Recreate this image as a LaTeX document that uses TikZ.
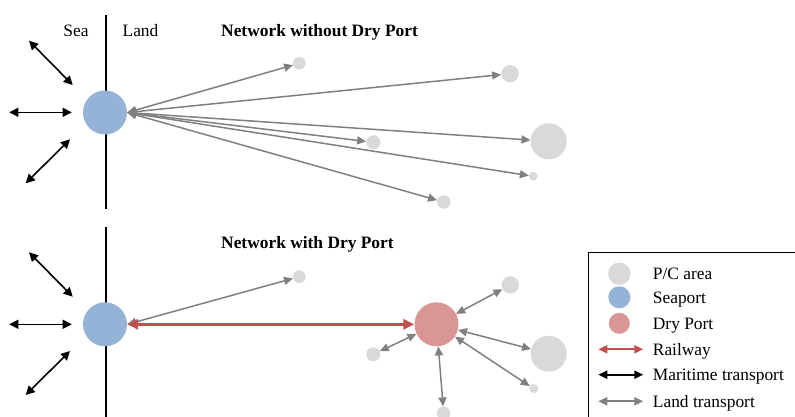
\documentclass[tikz,border=0pt]{standalone}
\usepackage{fontspec}
\setmainfont{Liberation Serif}
\usetikzlibrary{arrows.meta}
\definecolor{seablue}{RGB}{149,179,215}
\definecolor{pcgray}{RGB}{217,217,217}
\definecolor{drypink}{RGB}{217,150,148}
\definecolor{railred}{RGB}{192,80,77}
\definecolor{landgray}{RGB}{128,128,128}
\begin{document}
\begin{tikzpicture}[x=1pt,y=-1pt,
  hub/.style={circle,inner sep=0pt,draw=none,minimum size=#1},
  pc/.style={hub=#1,fill=pcgray},
  seaport/.style={hub=#1,fill=seablue},
  dryport/.style={hub=#1,fill=drypink},
  landtip/.tip={Triangle[length=9pt,width=8pt]},
  seatip/.tip={Triangle[length=9pt,width=9pt]},
  railtip/.tip={Triangle[length=11pt,width=10pt]},
  land/.style={draw=landgray,line width=1.5pt,landtip-landtip},
  maritime/.style={draw=black,line width=1.6pt,seatip-seatip},
  rail/.style={draw=railred,line width=3pt,railtip-railtip},
  coast/.style={draw=black,line width=1.6pt},
  txt/.style={font=\fontsize{17.4}{20}\selectfont,inner sep=0pt},
  title/.style={txt,font=\fontsize{17.4}{20}\selectfont\bfseries,anchor=base west},
]
\clip (0,0) rectangle (795,416);
\fill[white] (0,0) rectangle (795,416);

% ---------- upper panel: network without dry port ----------
\coordinate (c1a) at (106,15);
\coordinate (c1b) at (106,208.5);
\draw[coast] (c1a) -- (c1b);
\node[txt,anchor=base] (sea) at (76,36.7) {Sea};
\node[txt,anchor=base] (landlbl) at (140.5,36.7) {Land};
\node[title] (t1) at (221,36.7) {Network without Dry Port};

\node[seaport=44pt] (sp1) at (105,112.5) {};

\node[pc=12.6pt] (a1) at (299.3,63.3) {};
\node[pc=17.4pt] (a2) at (510,73.7) {};
\node[pc=36pt]   (a3) at (548.7,141.3) {};
\node[pc=14pt]   (a4) at (373.3,142.3) {};
\node[pc=8.6pt]  (a5) at (533.3,176.3) {};
\node[pc=13.4pt] (a6) at (443.7,202) {};

% all land links leave the seaport from its east point
\foreach \t in {a1,a2,a3,a4,a5,a6}
  \draw[land] (sp1.east) -- (\t);

\coordinate (m1a) at (29,40.7);   \coordinate (m1b) at (72.7,85);
\coordinate (m2a) at (9.3,112.3); \coordinate (m2b) at (71.7,112.3);
\coordinate (m3a) at (70,139.3);  \coordinate (m3b) at (25.7,183.3);
\draw[maritime] (m1a) -- (m1b);
\draw[maritime] (m2a) -- (m2b);
\draw[maritime] (m3a) -- (m3b);

% ---------- lower panel: network with dry port ----------
\coordinate (c2a) at (106,226.7);
\coordinate (c2b) at (106,420);
\draw[coast] (c2a) -- (c2b);
\node[title] (t2) at (221,248.5) {Network with Dry Port};

\node[seaport=44pt] (sp2) at (105,324.3) {};
\node[dryport=44pt] (dp)  at (436.5,324.3) {};

\node[pc=12.6pt] (b1) at (299.3,276.7) {};
\node[pc=17.4pt] (b2) at (510.3,285) {};
\node[pc=14pt]   (b3) at (373.3,354.3) {};
\node[pc=36pt]   (b4) at (548.7,353.7) {};
\node[pc=9pt]    (b5) at (533.7,388.7) {};
\node[pc=13.4pt] (b6) at (443.7,413.3) {};

\draw[land] (sp2.east) -- (b1);
\draw[rail] (sp2.east) -- (dp.west);
\foreach \t in {b2,b3,b4,b5,b6}
  \draw[land] (dp) -- (\t);

\coordinate (n1a) at (29,252.3);  \coordinate (n1b) at (72.7,296.7);
\coordinate (n2a) at (9.3,324.3); \coordinate (n2b) at (71.7,324.3);
\coordinate (n3a) at (70,351);    \coordinate (n3b) at (25.7,395);
\draw[maritime] (n1a) -- (n1b);
\draw[maritime] (n2a) -- (n2b);
\draw[maritime] (n3a) -- (n3b);

% ---------- legend ----------
\draw[line width=1.2pt] (588.3,252.3) rectangle (820,440);

\node[pc=22.4pt]      (lpc)  at (619.3,273.7) {};
\node[seaport=22pt]   (lsp)  at (619.3,297.3) {};
\node[dryport=21pt]   (ldp)  at (619.3,323.3) {};
\coordinate (lra) at (598.3,349.3); \coordinate (lrb) at (643.3,349.3);
\coordinate (lma) at (598.3,374.7); \coordinate (lmb) at (643.3,374.7);
\coordinate (lla) at (598.3,401.3); \coordinate (llb) at (643.3,401.3);
\draw[draw=railred,line width=2pt,landtip-landtip] (lra) -- (lrb);
\draw[draw=black,line width=2pt,landtip-landtip] (lma) -- (lmb);
\draw[draw=landgray,line width=2pt,landtip-landtip] (lla) -- (llb);

\node[txt,anchor=base west] (l1) at (652.7,279.4) {P/C area};
\node[txt,anchor=base west] (l2) at (652.7,303.0) {Seaport};
\node[txt,anchor=base west] (l3) at (652.7,329.0) {Dry Port};
\node[txt,anchor=base west] (l4) at (652.7,355.0) {Railway};
\node[txt,anchor=base west] (l5) at (652.7,380.4) {Maritime transport};
\node[txt,anchor=base west] (l6) at (652.7,407.0) {Land transport};
\end{tikzpicture}
\end{document}
